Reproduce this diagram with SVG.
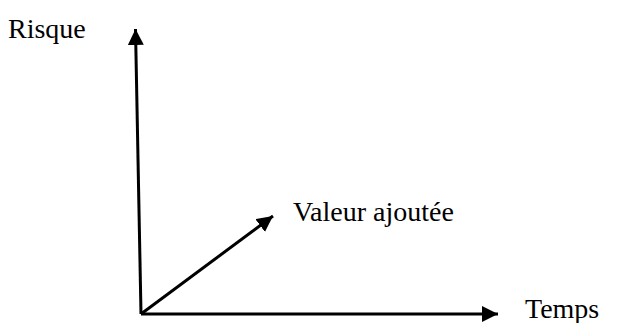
<svg xmlns="http://www.w3.org/2000/svg" width="623" height="323" viewBox="0 0 623 323">
<style>
text{font-family:"Times New Roman","Liberation Serif","DejaVu Serif",serif;font-size:28px;fill:#000}
.ax{stroke:#000;stroke-width:3;fill:none}
</style>
<defs>
<marker id="ah" markerUnits="userSpaceOnUse" viewBox="0 0 16 16" refX="16" refY="8" markerWidth="16" markerHeight="16" orient="auto">
<path d="M0,0 L16,8 L0,16 Z" fill="#000"/>
</marker>
</defs>
<rect width="623" height="323" fill="#fff"/>
<g id="connectors">
<line class="ax" x1="141" y1="314" x2="135.5" y2="29" marker-end="url(#ah)"/>
<line class="ax" x1="141" y1="314" x2="498" y2="314" marker-end="url(#ah)"/>
<line class="ax" x1="141" y1="314" x2="273" y2="216" marker-end="url(#ah)"/>
</g>
<g id="risque"><text x="8" y="38">Risque</text></g>
<g id="valeur"><text x="293" y="221">Valeur ajoutée</text></g>
<g id="temps"><text x="525" y="318">Temps</text></g>
</svg>
